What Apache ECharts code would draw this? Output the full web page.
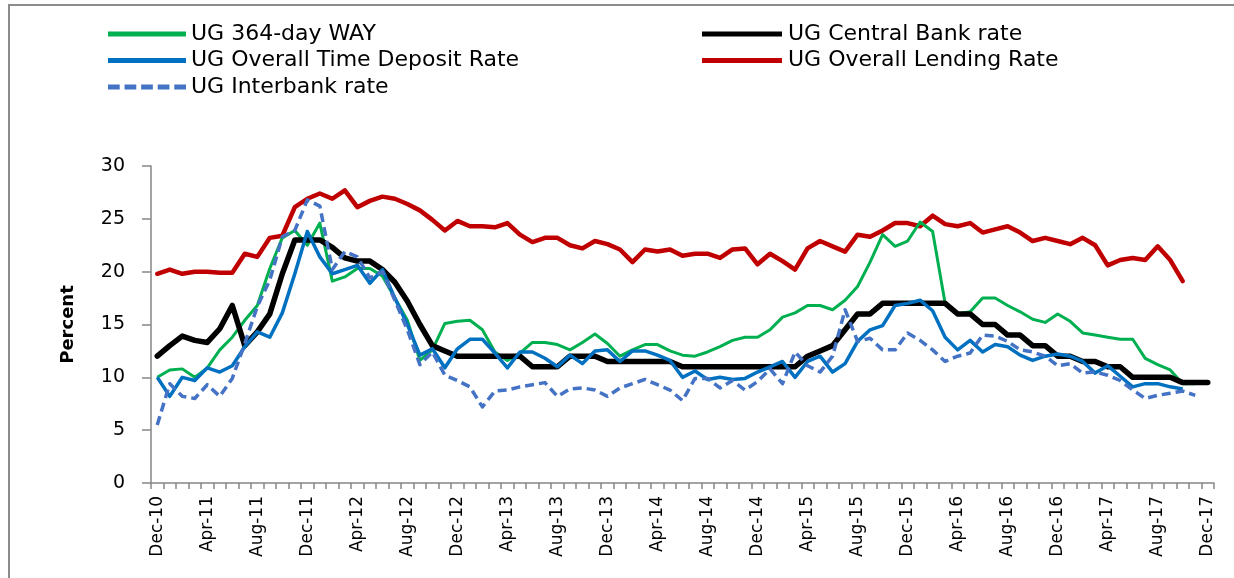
<!DOCTYPE html>
<html>
<head>
<meta charset="utf-8">
<script src="https://cdn.jsdelivr.net/npm/echarts@6/dist/echarts.min.js"></script>
<style>
html,body{margin:0;padding:0;background:#fff;}
#chart{width:1234px;height:578px;}
</style>
</head>
<body>
<div id="chart"></div>
<script>
// Monthly categories Dec-10 .. Dec-17
const monthNames = ['Jan','Feb','Mar','Apr','May','Jun','Jul','Aug','Sep','Oct','Nov','Dec'];
const categories = [];
for (let y = 10; y <= 17; y++) {
  for (let m = 0; m < 12; m++) {
    if (y === 10 && m < 11) continue;
    categories.push(monthNames[m] + '-' + y);
  }
}

const way = [10.0,10.7,10.8,10.0,10.9,12.6,13.8,15.4,16.8,20.3,23.2,23.9,22.5,24.6,19.1,19.5,20.3,20.3,19.6,17.5,
  15.4,11.6,12.6,15.1,15.3,15.4,14.5,12.4,11.6,12.3,13.3,13.3,13.1,12.6,13.3,14.1,13.2,12.0,12.6,13.1,
  13.1,12.5,12.1,12.0,12.4,12.9,13.5,13.8,13.8,14.5,15.7,16.1,16.8,16.8,16.4,17.3,18.6,20.9,23.5,22.4,
  22.9,24.7,23.8,17.0,16.0,16.2,17.5,17.5,16.8,16.2,15.5,15.2,16.0,15.3,14.2,14.0,13.8,13.6,13.6,11.8,
  11.2,10.7,9.4,9.4,null];

const cbr = [12.0,13.0,13.9,13.5,13.3,14.6,16.8,13.0,14.3,16.0,19.8,23,23,23,22.3,21.3,21,21,20.2,19,
  17.2,15,13,12.5,12,12,12,12,12,12,11,11,11,12,12,12,11.5,11.5,11.5,11.5,
  11.5,11.5,11,11,11,11,11,11,11,11,11,11,12,12.5,13,14.5,16,16,17,17,
  17,17,17,17,16,16,15,15,14,14,13,13,12,12,11.5,11.5,11,11,10,10,
  10,10,9.5,9.5,9.5];

const tdr = [10.0,8.2,10.0,9.7,10.9,10.5,11.1,12.9,14.3,13.8,16.1,19.8,23.8,21.4,19.8,20.2,20.6,18.9,20.2,17.5,
  15.0,12.1,12.7,10.9,12.7,13.6,13.6,12.3,10.9,12.4,12.4,11.8,11.0,12.1,11.3,12.5,12.6,11.5,12.5,12.5,
  12.1,11.6,10.0,10.6,9.8,10.0,9.8,9.9,10.5,11.0,11.5,10.0,11.5,12.0,10.5,11.3,13.4,14.5,14.9,16.8,
  17.0,17.3,16.3,13.8,12.6,13.5,12.4,13.1,12.9,12.1,11.6,12.0,12.2,12.0,11.5,10.4,11.1,10.1,9.1,9.4,
  9.4,9.1,8.9,null,null];

const lending = [19.8,20.2,19.8,20.0,20.0,19.9,19.9,21.7,21.4,23.2,23.4,26.1,26.9,27.4,26.9,27.7,26.1,26.7,27.1,26.9,
  26.4,25.8,24.9,23.9,24.8,24.3,24.3,24.2,24.6,23.5,22.8,23.2,23.2,22.5,22.2,22.9,22.6,22.1,20.9,22.1,
  21.9,22.1,21.5,21.7,21.7,21.3,22.1,22.2,20.7,21.7,21.0,20.2,22.2,22.9,22.4,21.9,23.5,23.3,23.9,24.6,
  24.6,24.3,25.3,24.5,24.3,24.6,23.7,24.0,24.3,23.7,22.9,23.2,22.9,22.6,23.2,22.5,20.6,21.1,21.3,21.1,
  22.4,21.1,19.1,null,null];

const interbank = [5.5,9.4,8.2,8.0,9.3,8.2,9.9,13.2,16.7,19.2,23.3,23.9,26.8,26.2,20.2,21.9,21.4,19.4,20.0,17.3,
  14.5,11.2,12.4,10.2,9.7,9.1,7.2,8.7,8.8,9.1,9.3,9.5,8.2,8.9,9.0,8.8,8.2,9.0,9.4,9.8,
  9.3,8.8,7.8,9.9,9.9,9.0,9.7,8.8,9.6,10.8,9.4,12.4,11.1,10.5,12.0,16.4,13.4,13.7,12.6,12.6,
  14.2,13.5,12.6,11.5,12.0,12.3,14.0,13.9,13.4,12.6,12.4,12.0,11.1,11.3,10.4,10.5,10.2,9.7,8.8,8.0,
  8.3,8.5,8.7,8.3,null];

const yTicks = [0,5,10,15,20,25,30];

const FONT = 'DejaVu Sans';
const AXIS_COLOR = '#868686';
const SOLID_ICON = 'path://M0,0H80V5H0Z';
const DASH_ICON = 'path://M0,0H12V5H0Z M17,0H29V5H17Z M34,0H46V5H34Z M51,0H63V5H51Z M68,0H80V5H68Z';

const chart = echarts.init(document.getElementById('chart'), null, {renderer:'canvas'});
const option = {
  animation: false,
  backgroundColor: '#fff',
  graphic: [{
    type: 'rect', silent: true, z: 100,
    shape: {x: 9, y: 5, width: 1400, height: 800},
    style: {fill: 'none', stroke: '#8c8c8c', lineWidth: 2}
  }],
  legend: [{
    data: [
      {name: 'UG 364-day WAY', icon: SOLID_ICON},
      {name: 'UG Overall Time Deposit Rate', icon: SOLID_ICON},
      {name: 'UG Interbank rate', icon: DASH_ICON}
    ],
    orient: 'vertical', left: 103, top: 18, itemWidth: 78, itemHeight: 5, itemGap: 4.5,
    textStyle: {fontFamily: FONT, fontSize: 22, color: '#000'}
  },{
    data: [
      {name: 'UG Central Bank rate', icon: SOLID_ICON},
      {name: 'UG Overall Lending Rate', icon: SOLID_ICON}
    ],
    orient: 'vertical', left: 697, top: 18, itemWidth: 82, itemHeight: 5, itemGap: 4.5,
    textStyle: {fontFamily: FONT, fontSize: 22, color: '#000'}
  }],
  grid: {left: 151, right: 20, top: 166, bottom: 95, containLabel: false, outerBoundsMode: 'none'},
  xAxis: {
    type: 'category', data: categories, boundaryGap: true,
    axisLine: {show: true, lineStyle: {color: AXIS_COLOR, width: 1.5}},
    axisTick: {show: true, interval: 0, length: 6, lineStyle: {color: AXIS_COLOR, width: 1.5}},
    axisLabel: {interval: 3, rotate: 90, fontFamily: FONT, fontSize: 17, color: '#000', margin: 13}
  },
  yAxis: {
    type: 'value', min: 0, max: 30, interval: 5,
    axisLine: {show: true, lineStyle: {color: AXIS_COLOR, width: 1.5}},
    axisTick: {show: true, length: 9, lineStyle: {color: AXIS_COLOR, width: 1.5}},
    axisLabel: {fontFamily: FONT, fontSize: 19, color: '#000', margin: 26,
      formatter: v => yTicks.includes(v) ? String(v) : ''},
    splitLine: {show: false},
    name: 'Percent', nameLocation: 'middle', nameGap: 74,
    nameTextStyle: {fontFamily: FONT, fontSize: 18, fontWeight: 'bold', color: '#000'}
  },
  series: [
    {name: 'UG Overall Lending Rate', type: 'line', data: lending, showSymbol: false, symbol: 'none',
      lineStyle: {color: '#C00000', width: 4.5, cap: 'round', join: 'round'}, itemStyle: {color: '#C00000'}},
    {name: 'UG 364-day WAY', type: 'line', data: way, showSymbol: false, symbol: 'none',
      lineStyle: {color: '#00B050', width: 3, join: 'round'}, itemStyle: {color: '#00B050'}},
    {name: 'UG Central Bank rate', type: 'line', data: cbr, showSymbol: false, symbol: 'none',
      lineStyle: {color: '#000000', width: 5.5, cap: 'round', join: 'round'}, itemStyle: {color: '#000000'}},
    {name: 'UG Overall Time Deposit Rate', type: 'line', data: tdr, showSymbol: false, symbol: 'none',
      lineStyle: {color: '#0070C0', width: 3.5, join: 'round'}, itemStyle: {color: '#0070C0'}},
    {name: 'UG Interbank rate', type: 'line', data: interbank, showSymbol: false, symbol: 'none',
      lineStyle: {color: '#4472C4', width: 3.5, type: [9, 5], join: 'round'}, itemStyle: {color: '#4472C4'}}
  ]
};
chart.setOption(option);
</script>
</body>
</html>
